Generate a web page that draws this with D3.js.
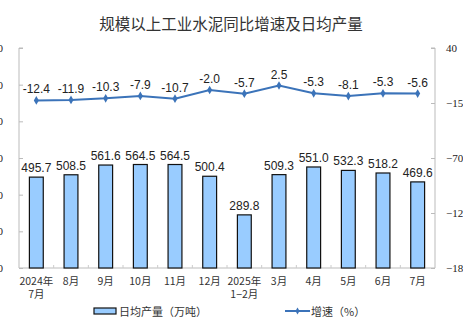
<!DOCTYPE html>
<html><head><meta charset="utf-8">
<script src="https://cdn.jsdelivr.net/npm/d3@7"></script>
<style>
html,body{margin:0;padding:0;background:#fff;}
svg{display:block;}
</style></head>
<body><svg id="chart" width="463" height="326"></svg>
<script>
// Monthly cement output: daily average (10k tonnes) and YoY growth (%)
const categories = ["2024年\n7月","8月","9月","10月","11月","12月","2025年\n1−2月","3月","4月","5月","6月","7月"];
const dailyOutput = [495.7,508.5,561.6,564.5,564.5,500.4,289.8,509.3,551.0,532.3,518.2,469.6];
const growthRate = [-12.4,-11.9,-10.3,-7.9,-10.7,-2.0,-5.7,2.5,-5.3,-8.1,-5.3,-5.6];
const leftTicks = [0,200,400,600,800,1000,1200];
const rightTicks = [-180,-125,-70,-15,40];

const svg = d3.select("#chart");
const plotL = 19, plotR = 435, plotT = 48, plotB = 268;

const x = d3.scaleBand().domain(d3.range(categories.length)).range([plotL, plotR]).paddingInner(0.6).paddingOuter(0.3);
const yL = d3.scaleLinear().domain([0,1200]).range([plotB, plotT]);
const yR = d3.scaleLinear().domain([-180,40]).range([plotB, plotT]);
const band = (plotR-plotL)/categories.length;
const cx = i => x(i) + x.bandwidth()/2;

// title
svg.append("text").attr("x",231).attr("y",30).attr("text-anchor","middle")
  .attr("font-family","'Noto Sans CJK SC',sans-serif").attr("font-size",15.5).attr("fill","#333")
  .text("规模以上工业水泥同比增速及日均产量");

// left axis
const axL = d3.axisLeft(yL).tickValues(leftTicks).tickSize(-4).tickPadding(16).tickFormat(d3.format("d"));
const gL = svg.append("g").attr("transform",`translate(${plotL},0)`).call(axL);
// right axis
const axR = d3.axisRight(yR).tickValues(rightTicks).tickSize(-4).tickPadding(11);
const gR = svg.append("g").attr("transform",`translate(${plotR},0)`).call(axR);
[gL,gR].forEach(g=>{
  g.select(".domain").attr("stroke","#bbb");
  g.selectAll(".tick line").attr("stroke","#bbb");
  g.selectAll(".tick text").attr("font-family","'Liberation Serif',serif").attr("font-size",11).attr("fill","#222");
});
gL.select(".domain").attr("d",`M4,${plotT}H0V${plotB}`);
gR.select(".domain").attr("d",`M-4,${plotT}H0V${plotB}`);

// bottom axis with ticks between categories
svg.append("line").attr("x1",plotL).attr("x2",plotR).attr("y1",plotB).attr("y2",plotB).attr("stroke","#bbb");
svg.selectAll(".xt").data(d3.range(1,categories.length)).join("line")
  .attr("x1",i=>plotL+i*band).attr("x2",i=>plotL+i*band).attr("y1",plotB).attr("y2",plotB-3).attr("stroke","#ccc");

// category labels
const cl = svg.selectAll(".cat").data(categories).join("text")
  .attr("text-anchor","middle").attr("font-family","'Noto Sans CJK SC',sans-serif").attr("font-size",10.5).attr("fill","#333");
cl.each(function(d,i){
  const parts = d.split("\n");
  parts.forEach((p,k)=>{
    d3.select(this).append("tspan").attr("x",cx(i)).attr("y",285+k*13).text(p);
  });
});

// bars
svg.selectAll(".bar").data(dailyOutput).join("rect")
  .attr("x",(d,i)=>x(i)).attr("width",x.bandwidth())
  .attr("y",d=>yL(d)).attr("height",d=>plotB-yL(d))
  .attr("fill","#99ccff").attr("stroke","#111").attr("stroke-width",1.2);
svg.selectAll(".bl").data(dailyOutput).join("text")
  .attr("x",(d,i)=>cx(i)).attr("y",d=>yL(d)-5).attr("text-anchor","middle")
  .attr("font-family","'Liberation Sans',Arial,sans-serif").attr("font-size",12).attr("fill","#222")
  .text(d=>d.toFixed(1));

// growth line
const line = d3.line().x((d,i)=>cx(i)).y(d=>yR(d));
svg.append("path").datum(growthRate).attr("d",line).attr("fill","none").attr("stroke","#3b73b9").attr("stroke-width",2);
svg.selectAll(".pt").data(growthRate).join("path")
  .attr("d",d3.symbol(d3.symbolDiamond,22)).attr("transform",(d,i)=>`translate(${cx(i)},${yR(d)})`)
  .attr("fill","#3b73b9");
svg.selectAll(".ll").data(growthRate).join("text")
  .attr("x",(d,i)=>cx(i)).attr("y",d=>yR(d)-7).attr("text-anchor","middle")
  .attr("font-family","'Liberation Sans',Arial,sans-serif").attr("font-size",12).attr("fill","#222")
  .text(d=>d.toFixed(1));

// legend
const lg = svg.append("g").attr("font-family","'Noto Sans CJK SC',sans-serif").attr("font-size",11).attr("fill","#333");
lg.append("rect").attr("x",94).attr("y",308).attr("width",22).attr("height",6).attr("fill","#99ccff").attr("stroke","#111").attr("stroke-width",1.2);
lg.append("text").attr("x",119).attr("y",315.5).text("日均产量（万吨）");
lg.append("line").attr("x1",285).attr("x2",310).attr("y1",311).attr("y2",311).attr("stroke","#3b73b9").attr("stroke-width",2);
lg.append("path").attr("d",d3.symbol(d3.symbolDiamond,14)).attr("transform","translate(297.5,311)").attr("fill","#3b73b9");
lg.append("text").attr("x",311).attr("y",315.5).text("增速（%）");
</script></body></html>
